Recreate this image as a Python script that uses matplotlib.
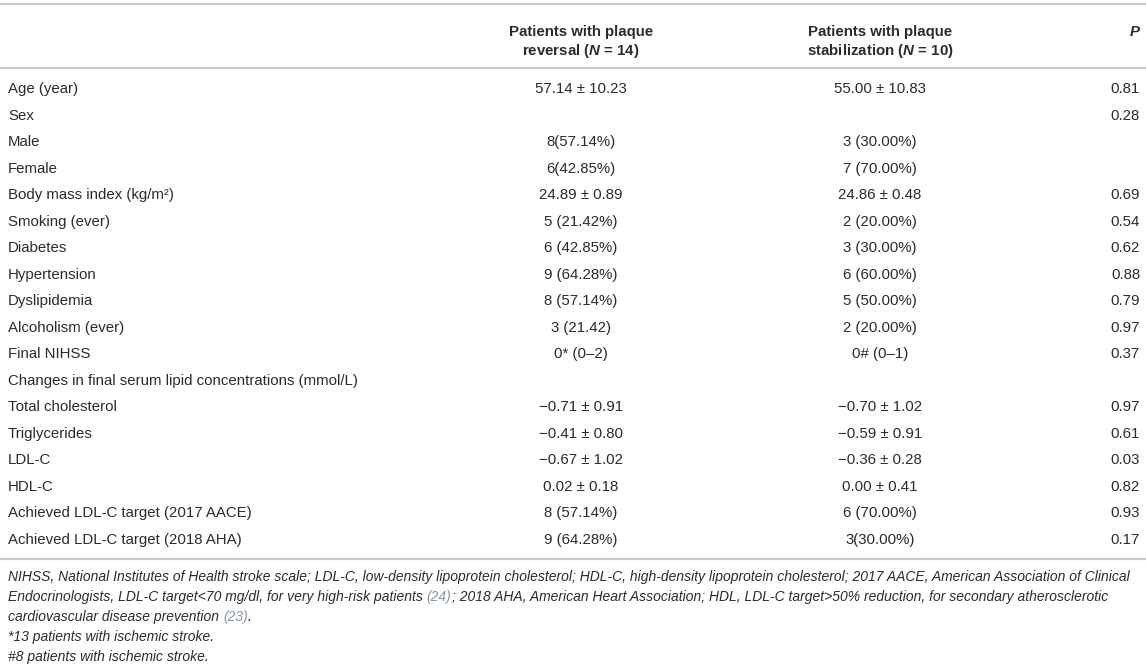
# Baseline table: plaque reversal vs plaque stabilization
import matplotlib
matplotlib.use("Agg")
import matplotlib.pyplot as plt

plt.rcParams['font.family'] = ['Liberation Sans', 'DejaVu Sans']
plt.rcParams['mathtext.fontset'] = 'custom'
plt.rcParams['mathtext.rm'] = 'Liberation Sans'
plt.rcParams['mathtext.it'] = 'Liberation Sans:italic'
plt.rcParams['mathtext.bf'] = 'Liberation Sans:bold'
plt.rcParams['mathtext.bfit'] = 'Liberation Sans:italic:bold'

# --- table data ---
header_reversal = ["Patients with plaque", r"reversal ($\mathbfit{N}$ = 14)"]
header_stab = ["Patients with plaque", r"stabilization ($\mathbfit{N}$ = 10)"]

labels = [
    "Age (year)", "Sex", "Male", "Female", "Body mass index (kg/m²)",
    "Smoking (ever)", "Diabetes", "Hypertension", "Dyslipidemia",
    "Alcoholism (ever)", "Final NIHSS",
    "Changes in final serum lipid concentrations (mmol/L)",
    "Total cholesterol", "Triglycerides", "LDL-C", "HDL-C",
    "Achieved LDL-C target (2017 AACE)", "Achieved LDL-C target (2018 AHA)",
]
reversal = [
    "57.14 ± 10.23", "", "8(57.14%)", "6(42.85%)", "24.89 ± 0.89",
    "5 (21.42%)", "6 (42.85%)", "9 (64.28%)", "8 (57.14%)",
    "3 (21.42)", "0* (0–2)", "",
    "−0.71 ± 0.91", "−0.41 ± 0.80", "−0.67 ± 1.02", "0.02 ± 0.18",
    "8 (57.14%)", "9 (64.28%)",
]
stabilization = [
    "55.00 ± 10.83", "", "3 (30.00%)", "7 (70.00%)", "24.86 ± 0.48",
    "2 (20.00%)", "3 (30.00%)", "6 (60.00%)", "5 (50.00%)",
    "2 (20.00%)", "0# (0–1)", "",
    "−0.70 ± 1.02", "−0.59 ± 0.91", "−0.36 ± 0.28", "0.00 ± 0.41",
    "6 (70.00%)", "3(30.00%)",
]
p_values = [
    "0.81", "0.28", "", "", "0.69", "0.54", "0.62", "0.88", "0.79",
    "0.97", "0.37", "", "0.97", "0.61", "0.03", "0.82", "0.93", "0.17",
]

# footnote lines, split into (text, is_reference) pieces
footnotes = [
    [("NIHSS, National Institutes of Health stroke scale; LDL-C, low-density lipoprotein cholesterol; "
      "HDL-C, high-density lipoprotein cholesterol; 2017 AACE, American Association of Clinical", False)],
    [("Endocrinologists, LDL-C target<70 mg/dl, for very high-risk patients ", False), ("(24)", True),
     ("; 2018 AHA, American Heart Association; HDL, LDL-C target>50% reduction, for secondary atherosclerotic", False)],
    [("cardiovascular disease prevention ", False), ("(23)", True), (".", False)],
    [("*13 patients with ischemic stroke.", False)],
    [("#8 patients with ischemic stroke.", False)],
]

# --- layout ---
W, H = 1146, 669
fs = 10.8
fs_note = 10.0
txt = '#2b2b2b'
rule = '#c9c9c9'
ref_col = '#8a96a8'

x_label = 8
x_rev = 581
x_stab = 880
x_p = 1140

fig = plt.figure(figsize=(W / 100, H / 100), dpi=100)
ax = fig.add_axes([0, 0, 1, 1])
ax.set_xlim(0, W)
ax.set_ylim(H, 0)
ax.axis('off')

def hline(y):
    ax.plot([0, W], [y, y], color=rule, lw=1.6, solid_capstyle='butt')

hline(4)
hline(68)
hline(559)

# header
for i, (a, b) in enumerate(zip(header_reversal, header_stab)):
    y = 36 + i * 19
    ax.text(x_rev, y, a, ha='center', va='baseline', fontsize=fs, fontweight='bold', color=txt)
    ax.text(x_stab, y, b, ha='center', va='baseline', fontsize=fs, fontweight='bold', color=txt)
ax.text(x_p, 36, "P", ha='right', va='baseline', fontsize=fs, fontweight='bold',
        fontstyle='italic', color=txt)

# body rows
y0, step = 93, 26.53
for i in range(len(labels)):
    y = y0 + i * step
    ax.text(x_label, y, labels[i], ha='left', va='baseline', fontsize=fs, color=txt)
    ax.text(x_rev, y, reversal[i], ha='center', va='baseline', fontsize=fs, color=txt)
    ax.text(x_stab, y, stabilization[i], ha='center', va='baseline', fontsize=fs, color=txt)
    ax.text(x_p, y, p_values[i], ha='right', va='baseline', fontsize=fs, color=txt)

# footnotes, pieces placed one after another
fig.canvas.draw()
renderer = fig.canvas.get_renderer()
for j, line in enumerate(footnotes):
    y = 581 + j * 20
    x = x_label
    for piece, is_ref in line:
        t = ax.text(x, y, piece, ha='left', va='baseline', fontsize=fs_note, fontstyle='italic',
                    color=ref_col if is_ref else txt)
        x += t.get_window_extent(renderer).width

fig.savefig('out.png', dpi=100)
